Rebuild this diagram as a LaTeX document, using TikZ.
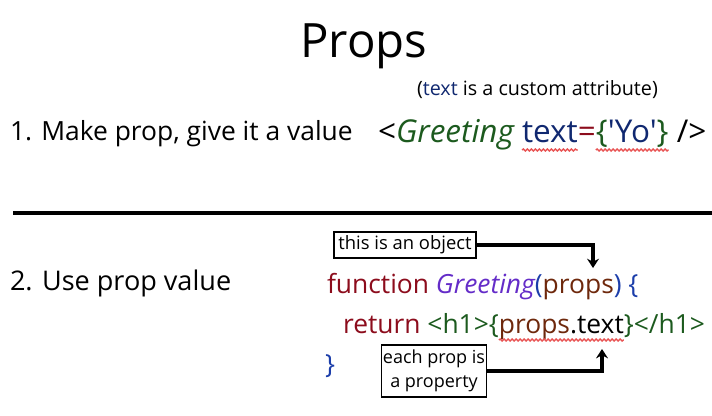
\documentclass[tikz,border=0pt]{standalone}
\usepackage{fontspec}
% no TeX ligatures, so ' stays a straight quote in the code
\setmainfont{Open Sans}[Ligatures=TeXOff]
\usetikzlibrary{arrows.meta,decorations.pathmorphing,calc}

\definecolor{jsxgreen}{RGB}{28,90,30}
\definecolor{attrnavy}{RGB}{16,40,112}
\definecolor{keyred}{RGB}{140,12,28}
\definecolor{fnpurple}{RGB}{100,44,200}
\definecolor{parenblue}{RGB}{28,62,170}
\definecolor{argbrown}{RGB}{110,40,12}
\definecolor{squigred}{RGB}{232,84,84}

\tikzset{
  seg/.style={inner sep=0pt, outer sep=0pt, anchor=base west},
  squig/.style={draw=squigred, line width=1.1pt,
    decorate, decoration={snake, segment length=3pt, amplitude=0.7pt}},
  notebox/.style={draw, line width=1.3pt, inner sep=1pt, align=center},
  conn/.style={line width=2.3pt, -{Stealth[length=7pt,width=9pt]}},
  codefont/.style={font=\fontsize{19.8}{24}\selectfont},
}

\begin{document}
\begin{tikzpicture}[x=0.75pt,y=-0.75pt]
\useasboundingbox (0,0) rectangle (712,415);

% title
\node[inner sep=0pt, anchor=base, font=\fontsize{35.5}{42}\selectfont] (title) at (364,57) {Props};

% step 1
\node[seg, font=\fontsize{19.8}{23}\selectfont] (step1) at (10,140) {1. Make prop, give it a value};
\node[seg, font=\fontsize{14.8}{17}\selectfont] (note1) at (417,95) {(\textcolor{attrnavy}{text} is a custom attribute)};

\begin{scope}[font=\fontsize{23.6}{28}\selectfont]
\node[seg] (a1) at (378,142) {<\textcolor{jsxgreen}{\itshape Greeting}\ \null};
\node[seg, text=attrnavy] (a2) at (a1.base east) {text};
\node[seg, text=keyred] (a3) at (a2.base east) {=};
\node[seg] (a4) at (a3.base east) {\textcolor{jsxgreen}{\{}\textcolor{attrnavy}{'Yo'}\textcolor{jsxgreen}{\}}};
\node[seg] (a5) at (a4.base east) {\ />};
\end{scope}
\draw[squig] ($(a2.base west)+(0,8)$) -- ($(a2.base east)+(0,8)$);
\draw[squig] ($(a4.base west)+(0,8)$) -- ($(a4.base east)+(0,8)$);

% divider
\draw[line width=2.3pt] (13,213) -- (712,213);

% step 2
\node[seg, font=\fontsize{20.3}{24}\selectfont] (step2) at (10,290) {2. Use prop value};

\begin{scope}[codefont]
\node[seg] (b1) at (327,293) {\textcolor{keyred}{function}\ \textcolor{fnpurple}{\itshape Greeting}\textcolor{parenblue}{(}};
\node[seg, text=argbrown] (b2) at (b1.base east) {props};
\node[seg, text=parenblue] (b3) at (b2.base east) {)\ \{};

\node[seg] (c1) at (343,333) {\textcolor{keyred}{return}\ \textcolor{jsxgreen}{<h1>\{}};
\node[seg] (c2) at (c1.base east) {\textcolor{argbrown}{props}.text};
\node[seg, text=jsxgreen] (c3) at (c2.base east) {\}</h1>};

\node[seg, text=parenblue] (d1) at (325,373) {\}};
\end{scope}
\draw[squig] ($(c2.base west)+(0,7)$) -- ($(c2.base east)+(0,7)$);

% call-outs
\node[notebox, font=\fontsize{13.8}{16}\selectfont, minimum width=106.5pt, minimum height=20pt] (obj) at (405,245) {this is an object};
\coordinate (objtip) at (593,268);
\draw[conn] (obj.east) -| (objtip);

\node[notebox, font=\fontsize{13.5}{18}\selectfont, minimum width=73.5pt, minimum height=39pt] (prop) at (434,371) {each prop is\\a property};
\coordinate (proptip) at (602,349);
\draw[conn] (prop.east) -| (proptip);
\end{tikzpicture}
\end{document}
